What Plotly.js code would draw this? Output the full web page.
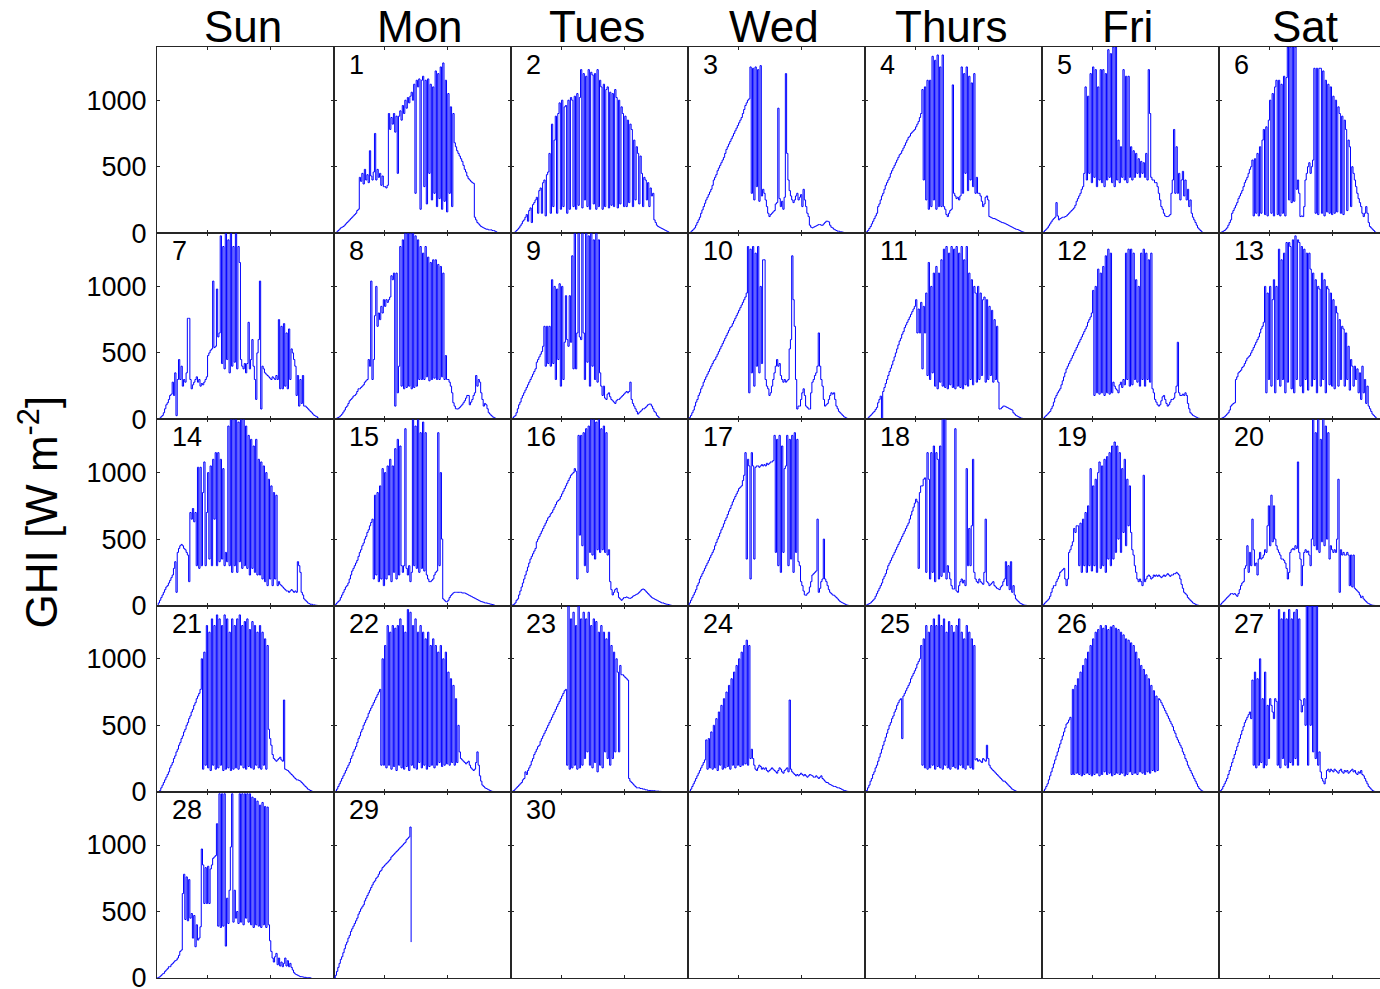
<!DOCTYPE html>
<html><head><meta charset="utf-8">
<script src="https://cdn.plot.ly/plotly-3.0.1.min.js"></script>
<style>html,body{margin:0;padding:0;overflow:hidden;background:#fff}</style>
</head><body><div id="chart" style="width:1400px;height:989px"></div>
<script>
const weekdays = ['Sun','Mon','Tues','Wed','Thurs','Fri','Sat'];
const firstWeekday = 1;   // day 1 is a Monday
const daysInMonth = 30;
const t0 = 6, dt = 0.1;   // sample time (hours) of first value, step
const yTickVals = [0, 500, 1000];
const xTickVals = [10, 15];
const yLabel = 'GHI [W m<sup>-2</sup>]';

const d1 = [0,5,10,20,30,40,45,50,60,70,
80,90,100,110,120,130,140,150,170,180,
420,390,450,370,480,400,440,380,620,430,
400,460,750,400,480,420,450,360,430,350,
350,340,360,900,780,870,820,900,760,880,
450,880,920,850,960,900,1000,940,1020,980,
1030,1060,1000,1120,300,1150,1100,1160,180,1150,
1180,350,1150,220,1160,450,1120,250,1100,300,
1220,200,1200,260,1250,180,1280,240,1150,160,
1050,300,950,200,900,680,650,620,600,580,
560,540,510,480,460,430,410,400,390,380,
375,120,100,80,70,60,50,45,40,35,
30,30,25,25,25,20,20,15,10,5,0];
const d2 = [0,0,5,10,20,30,40,55,70,90,
100,120,140,90,170,190,80,215,230,250,
270,150,320,340,150,380,400,130,440,460,
600,150,820,200,700,880,150,900,980,180,
1000,200,950,960,150,1000,180,1020,1000,200,
1030,180,1050,210,1020,1230,190,1200,250,1180,
200,1230,180,1210,1190,220,1200,180,1230,200,
1150,1100,180,1120,200,1080,1100,190,1060,210,
1050,200,1080,1020,190,1000,220,950,900,200,
880,200,850,230,820,780,200,700,250,650,
600,220,580,450,200,420,400,250,380,200,
340,280,300,100,80,60,50,45,40,35,
30,25,20,15,10,5,2,0];
const d3 = [0,5,10,20,30,40,60,80,100,120,
150,175,200,225,250,270,290,310,330,360,
400,420,440,470,490,510,530,550,570,600,
630,650,670,690,710,730,750,770,790,810,
830,850,870,900,930,960,980,1000,1010,1250,
300,1240,250,1250,350,1230,240,1260,280,330,
300,250,200,150,125,140,150,160,170,220,
230,940,260,200,240,180,270,1200,600,400,
320,280,250,230,250,280,300,250,270,290,
200,330,250,200,150,125,60,45,40,45,
50,55,60,65,65,60,60,70,80,90,
90,85,60,45,40,30,25,20,15,15,
10,10,8,5,3,0];
const d4 = [0,10,20,35,50,70,90,110,130,150,
200,220,250,280,300,330,360,380,400,420,
450,470,490,510,530,550,570,590,600,620,
640,660,680,700,720,730,750,760,770,780,
800,820,840,870,900,1080,400,1100,250,1150,
180,1150,200,1330,250,1300,180,1340,200,1250,
200,1340,200,180,140,125,150,170,180,1115,
300,280,260,270,250,280,1250,300,1200,450,
1250,320,1180,400,1130,350,1200,300,420,300,
300,280,240,200,220,270,280,250,125,120,
115,110,110,105,100,95,90,85,80,78,
75,70,65,60,55,50,45,40,35,30,
28,25,20,15,10,8,5,3,0];
const d5 = [0,10,20,30,40,55,70,85,100,110,
120,230,130,100,110,115,120,120,125,130,
140,150,160,170,180,190,210,240,260,280,
300,330,350,450,1100,400,1030,450,1200,380,
1250,420,1230,350,1100,400,1230,380,1230,350,
1200,400,1380,420,1350,380,1400,350,1400,400,
700,380,650,420,1230,400,1180,380,1180,420,
650,400,620,420,600,450,560,420,540,450,
530,420,600,400,1230,900,420,400,400,380,
380,350,300,250,200,180,150,130,125,125,
130,140,300,400,780,300,650,300,450,250,
400,465,280,400,250,330,200,250,150,120,
100,80,60,40,30,20,10,5,3,0];
const d6 = [0,5,10,15,20,30,40,60,80,100,
150,170,190,210,230,260,280,300,320,350,
380,400,420,450,480,500,550,130,560,150,
600,130,650,150,700,780,140,800,130,850,
1000,150,1050,130,1100,1150,140,1150,130,1120,
150,1180,130,1170,1400,250,1400,230,1400,240,
1400,330,400,300,125,130,125,200,400,450,
500,530,450,500,550,1240,150,1240,140,1240,
1240,150,1220,130,1150,160,1120,150,1100,140,
1030,150,1000,160,950,900,150,880,140,850,
780,170,700,650,200,500,450,400,350,300,
260,230,200,150,125,150,200,150,80,50,
40,30,20,10,5,0];
const d7 = [0,5,10,20,30,50,80,110,125,150,
180,190,280,180,350,28,300,450,300,400,
250,300,280,350,760,760,300,230,260,280,
300,320,280,300,250,270,260,280,300,320,
480,500,520,530,1040,540,550,980,620,650,
1380,420,1300,380,1400,450,1350,350,1400,400,
1300,430,1400,380,1300,1180,450,400,380,420,
350,420,730,380,450,600,400,300,150,500,
600,1040,78,400,380,350,340,330,320,310,
300,320,310,300,330,300,750,230,700,230,
720,250,650,230,680,300,530,500,450,400,
180,330,100,300,120,330,100,100,90,80,
70,60,50,40,30,25,20,10,5,0];
const d8 = [0,5,10,15,20,30,40,55,70,90,
100,120,140,150,160,175,180,190,210,230,
230,240,250,260,280,290,300,450,400,1040,
300,450,780,1000,700,800,750,850,800,900,
850,900,880,900,920,1080,1050,1100,100,1100,
200,400,1300,250,1350,230,1400,240,1400,250,
1400,230,1400,240,1380,250,1350,300,1300,300,
1250,300,1300,320,1220,290,1180,300,1200,310,
1200,300,1165,300,1150,320,1100,300,480,300,
300,280,250,200,125,100,80,78,80,90,
100,110,125,140,160,180,180,110,130,150,
180,200,330,250,300,280,200,150,100,120,
110,80,50,40,30,20,15,10,5,0];
const d9 = [0,10,20,28,50,80,110,130,160,180,
200,220,240,260,280,300,320,340,360,380,
430,450,470,490,510,550,700,400,700,420,
700,400,1050,420,1000,300,980,450,1020,250,
1000,300,580,930,600,550,930,580,1230,380,
1400,380,650,1400,620,600,1400,650,300,1400,
430,1380,250,1400,400,1350,300,1400,280,1350,
350,250,180,250,160,150,190,200,170,150,
140,130,120,140,150,150,160,170,180,190,
200,210,200,210,280,150,120,100,80,60,
40,50,60,70,80,80,90,100,110,115,
115,100,80,60,50,30,20,10,5,0];
const d10 = [0,15,30,50,70,100,130,150,180,200,
230,250,280,300,320,340,360,380,400,420,
440,450,470,490,510,530,550,570,590,610,
630,650,670,690,700,720,740,760,780,800,
820,840,860,880,900,920,950,1300,200,1280,
350,1300,250,1250,400,1300,350,1000,420,1200,
1200,300,250,230,180,200,250,300,350,400,
450,400,420,330,300,280,300,280,290,300,
530,600,1230,900,700,300,78,100,100,150,
200,230,180,100,90,78,78,200,280,300,
330,350,400,650,400,300,250,150,100,110,
120,150,180,200,190,200,150,100,80,60,
50,40,30,20,15,10,5,3,0];
const d11 = [0,5,10,20,30,40,50,60,75,90,
125,150,175,0,210,240,270,300,330,360,
385,410,440,470,500,530,560,590,610,640,
660,690,710,730,750,770,790,810,830,850,
900,650,830,650,880,380,850,650,950,330,
1180,300,1000,350,1100,250,1150,230,1100,280,
1200,250,1280,240,1300,230,1250,260,1300,240,
1280,230,1300,250,1250,240,1300,230,1200,260,
1300,250,1100,300,1050,260,1000,950,280,1000,
300,950,330,900,920,280,900,300,850,330,
820,280,750,300,700,280,78,80,90,100,
100,95,90,85,80,75,70,50,40,30,
25,20,15,10,8,5,3,0];
const d12 = [0,10,20,30,40,50,60,80,100,130,
160,180,200,215,230,260,290,320,350,380,
400,420,440,460,480,500,520,540,560,580,
600,620,640,660,680,700,730,750,770,800,
970,180,1000,200,1130,190,1100,200,1150,180,
1230,200,1280,190,1250,200,280,250,230,220,
200,260,280,240,300,260,1250,300,1280,250,
1280,260,1250,300,1050,280,1000,250,1250,300,
1280,250,1250,300,1200,280,1250,230,200,150,
130,110,100,110,140,170,180,150,120,100,
110,130,150,150,160,200,250,580,200,180,
180,190,180,200,180,120,80,50,40,30,
25,20,15,10,8,5,3,2,0];
const d13 = [0,5,10,15,20,30,40,50,70,100,
110,120,125,300,320,350,360,370,390,400,
420,440,460,470,480,500,520,540,560,580,
600,620,650,680,700,730,1000,200,950,300,
1000,250,900,1050,200,1000,300,1280,250,1200,
300,1250,200,1330,280,1330,1300,230,1350,200,
1380,300,1350,1330,250,1300,200,1280,300,1250,
220,1250,1130,250,1100,300,1050,200,1000,980,
250,1100,300,1050,200,1000,980,260,950,250,
900,230,850,800,250,750,300,700,680,250,
650,300,550,220,450,400,250,400,300,380,
200,350,150,400,200,300,120,250,100,80,
60,40,30,20,10,5,3,0];
const d14 = [0,20,40,60,80,100,120,140,150,170,
190,210,230,280,330,100,400,430,450,460,
450,430,420,400,380,180,700,650,730,630,
700,300,1040,280,1040,300,850,1080,300,700,
1000,350,1050,300,1100,650,1150,300,1150,330,
1100,350,1030,300,400,330,1350,300,1400,250,
1400,300,1400,250,1380,330,1400,280,1400,300,
1350,280,1280,230,1250,280,1200,250,1250,230,
1100,230,1080,200,1050,180,1000,150,950,200,
900,150,850,200,830,150,180,160,150,140,
130,120,110,110,100,110,120,110,100,110,
100,330,300,250,100,80,50,40,30,20,
15,10,10,5,5,3,2,0];
const d15 = [0,10,20,30,40,60,80,100,120,140,
150,170,200,230,260,280,300,320,340,370,
400,420,450,470,500,520,550,570,600,625,
650,200,830,230,850,180,900,200,1030,150,
1000,200,1050,230,1100,180,1050,250,1180,200,
1250,230,1200,300,250,300,1330,280,230,300,
180,250,1400,300,1350,280,1400,250,1300,280,
1380,260,1300,230,200,180,180,190,200,230,
250,260,1300,300,1000,500,50,40,30,28,
40,60,75,85,95,100,100,100,100,100,
100,95,95,95,90,85,80,75,70,65,
60,55,50,45,40,35,30,28,25,20,
20,18,15,12,10,8,5,0];
const d16 = [0,5,10,20,40,50,80,110,140,170,
200,230,260,290,320,350,370,390,410,430,
480,500,520,540,560,580,600,620,640,660,
670,690,700,720,740,760,780,790,800,820,
840,860,880,900,920,940,960,980,990,1000,
1030,1010,200,1280,530,1280,450,1300,300,1330,
250,1350,400,1400,380,1400,350,1380,420,1400,
400,1330,420,1350,400,1300,380,420,180,120,
80,100,120,130,100,60,50,40,50,60,
60,65,60,55,55,60,70,75,80,85,
90,100,110,120,125,120,110,100,90,80,
70,60,55,50,45,40,35,30,25,20,
20,15,12,10,8,5,3,0];
const d17 = [0,20,40,60,80,100,120,150,170,200,
220,240,260,280,300,320,340,360,380,400,
420,450,475,500,520,545,570,590,615,640,
660,685,710,730,755,780,800,820,840,860,
880,890,900,940,980,1150,350,1100,1050,200,
1150,1050,350,1040,1050,1050,1040,1050,1060,1050,
1060,1050,1070,1060,1070,1080,1080,1090,1280,400,
1250,300,1280,250,1200,400,1030,1050,1280,300,
1250,350,1280,250,1300,400,1250,330,300,180,
150,110,80,78,90,100,140,180,230,240,
250,260,650,100,130,180,200,500,200,180,
150,120,100,90,80,78,70,60,50,40,
30,25,20,15,10,5,3,0];
const d18 = [0,5,10,15,20,30,40,50,70,90,
110,130,150,170,200,220,240,270,300,320,
340,360,380,400,420,440,460,480,500,520,
540,560,580,600,620,650,680,710,740,770,
800,780,280,850,900,900,950,960,250,1150,
950,200,1150,250,1200,180,1150,1100,200,1200,
220,1400,250,1400,200,300,250,200,150,125,
125,1330,110,100,150,180,200,170,190,150,
1030,300,580,300,600,1100,250,200,180,170,
200,180,170,160,250,650,180,170,150,160,
170,180,150,140,130,125,120,140,150,180,
200,330,150,300,120,330,100,150,80,50,
40,30,20,15,10,5,3,2,0];
const d19 = [0,10,20,30,40,50,70,100,130,150,
150,180,200,220,250,260,270,280,200,150,
200,400,420,450,480,580,550,600,600,300,
620,250,650,300,700,250,750,300,1030,260,
900,300,950,250,1000,1080,280,1050,300,1100,
250,1120,350,1150,300,1200,350,1230,400,1200,
500,1150,400,1030,550,1100,450,950,600,900,
550,420,380,300,250,200,180,200,180,150,
980,180,200,220,230,220,200,210,230,220,
230,220,230,220,210,220,230,220,230,240,
230,220,230,230,240,240,250,240,230,200,
160,130,100,90,80,60,50,40,30,20,
15,10,5,3,0];
const d20 = [0,10,20,30,40,50,60,70,80,90,
90,85,90,80,70,90,120,150,170,180,
280,300,450,250,400,300,650,420,300,320,
230,350,400,350,360,380,420,400,600,750,
450,830,480,750,500,450,420,400,380,350,
350,340,320,280,200,250,400,420,430,420,
450,430,1080,400,350,150,300,400,420,400,
410,380,300,500,1400,450,1300,420,1400,400,
1250,480,1400,450,1350,500,1300,350,450,420,
400,420,400,500,950,100,420,380,400,380,
380,400,380,150,380,140,380,130,120,110,
100,80,60,70,50,40,30,20,15,10,
5,3,2,1,0];
const d21 = [0,0,10,30,50,70,90,110,130,150,
180,200,220,250,270,300,320,350,370,400,
420,450,470,500,520,550,570,600,620,650,
670,700,720,740,770,1000,170,1050,200,1250,
180,1200,160,1300,200,1250,170,1330,180,1300,
200,1250,160,1330,170,1300,180,1200,160,1300,
170,1250,180,1300,170,1330,200,1250,180,1280,
170,1300,190,1220,180,1280,170,1250,200,1200,
180,1250,170,1200,200,1150,170,1100,470,400,
350,280,250,240,230,240,250,260,240,230,
690,170,165,160,150,140,130,120,110,100,
90,90,85,80,70,60,50,40,30,20,
15,10,5,0];
const d22 = [0,5,20,40,60,80,100,120,140,160,
180,200,220,250,270,300,320,340,370,400,
420,450,470,500,520,540,560,590,610,630,
650,670,690,710,730,750,770,200,1000,200,
1100,180,1250,200,1200,170,1250,190,1230,160,
1250,200,1300,180,1250,170,1200,190,1370,160,
1350,200,1250,180,1300,170,1200,220,1250,180,
1200,200,1150,170,1200,190,1100,200,1150,180,
1100,200,1050,220,1100,190,1000,200,1050,210,
900,200,850,220,800,200,700,220,500,300,
250,240,230,220,210,220,230,200,180,170,
160,170,220,300,200,120,80,50,40,30,
25,20,15,10,5,3,0];
const d23 = [0,5,10,20,30,40,50,60,70,90,
100,150,130,160,180,200,230,250,280,300,
320,340,350,380,400,420,440,460,480,500,
520,540,560,580,600,620,640,660,680,700,
720,740,760,770,200,1400,170,1300,180,1350,
200,1250,170,1400,180,1300,200,1350,250,1300,
300,1350,200,1250,180,1300,220,1280,150,1200,
200,1250,180,1200,300,1150,250,1200,200,1100,
250,1050,300,1000,900,300,950,880,880,870,
860,850,840,100,80,70,60,50,40,30,
30,30,25,25,20,20,15,15,10,10,
10,10,8,8,5,5,5,3,3,2,
2,1,0];
const d24 = [0,5,20,40,60,80,100,120,140,160,
180,200,220,240,390,170,400,180,450,170,
500,180,550,160,600,200,650,170,700,180,
750,190,800,170,850,200,900,180,950,200,
1000,190,1050,200,1100,210,1140,200,1100,250,
320,250,200,170,160,180,200,190,170,180,
170,180,160,150,160,170,180,170,160,150,
140,160,180,170,150,140,160,170,180,150,
690,170,150,140,130,120,130,120,130,140,
130,120,130,120,110,120,130,125,120,110,
110,120,110,100,110,120,100,90,80,70,
70,60,55,50,45,40,40,35,30,30,
25,20,15,10,8,5,3,0];
const d25 = [0,10,30,50,80,100,130,150,180,200,
230,260,290,320,350,380,410,440,470,500,
520,550,570,600,620,650,670,690,700,400,
720,740,760,780,800,820,850,870,890,910,
930,960,980,1000,1100,200,1150,180,1250,170,
1200,180,1250,200,1300,170,1250,190,1330,180,
1250,170,1300,200,1200,180,1280,170,1250,190,
1200,180,1250,170,1300,200,1200,180,1150,170,
1250,200,1200,180,1150,170,1100,240,250,230,
240,230,220,250,240,230,350,250,200,180,
170,160,150,140,130,120,110,100,90,80,
80,70,60,50,40,30,20,15,10,5,0];
const d26 = [0,5,20,40,60,90,120,150,180,210,
240,270,300,330,360,390,420,450,480,510,
520,540,560,130,770,130,800,140,850,130,
900,120,950,130,1000,140,1050,130,1100,120,
1150,130,1200,140,1220,120,1250,130,1230,150,
1250,130,1220,140,1240,120,1250,130,1230,140,
1220,130,1200,140,1180,120,1150,130,1140,150,
1120,130,1100,140,1050,130,1000,150,950,140,
920,130,880,150,850,140,800,160,760,150,
720,160,700,690,670,650,630,610,590,570,
550,530,510,490,460,440,410,390,370,350,
330,300,280,250,230,200,180,160,140,120,
100,80,60,40,25,15,8,3,0];
const d27 = [0,10,20,40,60,80,100,130,160,190,
220,250,280,310,340,370,400,430,460,490,
520,540,560,580,600,550,840,200,900,180,
850,200,1000,220,700,180,900,200,650,250,
700,650,600,550,700,680,200,1370,180,1300,
250,1350,200,1300,180,1370,220,1300,200,1350,
250,1370,200,1300,690,600,650,700,500,1400,
200,1400,500,1400,300,1400,250,1400,200,300,
150,100,80,60,100,160,170,150,170,160,
150,170,160,150,140,160,170,150,140,160,
150,160,140,150,160,170,150,160,140,130,
150,140,160,130,120,100,80,60,40,30,
20,10,5,0];
const d28 = [0,5,10,20,30,35,50,60,70,85,
85,100,110,120,130,135,150,170,200,210,
635,780,440,760,430,740,450,485,300,470,
235,400,285,300,385,970,850,560,830,560,
840,560,820,850,900,910,920,1160,390,1385,
380,1385,390,1385,240,600,410,660,985,1385,
420,660,450,500,410,1385,420,1385,400,1385,
450,1385,420,1385,400,1360,380,1350,400,1330,
390,1300,380,1320,400,1290,380,1285,400,280,
200,150,120,160,185,100,150,90,120,85,
110,150,90,130,85,110,80,60,40,30,
25,20,15,10,10,8,5,5,3,3,
2,1,0];
const d29 = [0,20,50,80,110,140,160,190,220,250,
270,300,320,350,370,390,410,430,450,480,
500,520,535,550,580,600,620,640,660,680,
700,720,730,750,760,780,800,810,830,840,
850,860,870,880,890,910,920,930,940,950,
960,970,980,990,1000,1010,1020,1040,1050,1060,
1135,270];
const ghiByDay = [d1,d2,d3,d4,d5,d6,d7,d8,d9,d10,d11,d12,d13,d14,d15,d16,d17,d18,d19,d20,d21,d22,d23,d24,d25,d26,d27,d28,d29];

// ---------- figure ----------
const NCOL = 7, NROW = 5;
const FIG_W = 1400, FIG_H = 989;
const M = {l:157, r:4, t:47, b:11};
const PW = FIG_W - M.l - M.r, PH = FIG_H - M.t - M.b;
const FONT = 'Liberation Sans, Arial, Helvetica, sans-serif';
const LINEC = '#262626';

const layout = {
  width: FIG_W, height: FIG_H, margin: M,
  paper_bgcolor: '#fff', plot_bgcolor: 'rgba(0,0,0,0)',
  showlegend: false, font: {family: FONT, color: '#000'},
  annotations: []
};
const sfx = k => (k === 0 ? '' : String(k + 1));
for (let k = 0; k < NCOL * NROW; k++) {
  const r = Math.floor(k / NCOL), c = k % NCOL;
  layout['xaxis' + sfx(k)] = {
    domain: [c / NCOL, (c + 1) / NCOL], range: [6, 20], anchor: 'y' + sfx(k),
    showgrid: false, zeroline: false, showline: true, linecolor: LINEC, linewidth: 1,
    mirror: 'ticks', ticks: 'inside', ticklen: 3, tickcolor: LINEC,
    tickvals: xTickVals, showticklabels: false, fixedrange: true
  };
  layout['yaxis' + sfx(k)] = {
    domain: [1 - (r + 1) / NROW, 1 - r / NROW], range: [0, 1400], anchor: 'x' + sfx(k),
    showgrid: false, zeroline: false, showline: true, linecolor: LINEC, linewidth: 1,
    mirror: 'ticks', ticks: 'inside', ticklen: 3, tickcolor: LINEC,
    tickvals: yTickVals, ticktext: yTickVals.map(String),
    showticklabels: c === 0, ticklabelstandoff: 4, ticklabeloverflow: 'allow',
    tickfont: {family: FONT, size: 27, color: '#000'}, fixedrange: true
  };
}

const traces = [];
// empty trace in every cell so that every box is drawn
for (let k = 0; k < NCOL * NROW; k++) {
  traces.push({type: 'scatter', mode: 'lines', x: [null], y: [null],
    xaxis: 'x' + sfx(k), yaxis: 'y' + sfx(k), hoverinfo: 'skip'});
}
ghiByDay.forEach((vals, n) => {
  const k = n + firstWeekday;
  traces.push({
    type: 'scatter', mode: 'lines',
    x: vals.map((_, i) => +(t0 + dt * i).toFixed(2)), y: vals,
    xaxis: 'x' + sfx(k), yaxis: 'y' + sfx(k),
    line: {color: '#0000ff', width: 1, shape: 'hv'}, hoverinfo: 'skip'
  });
});

// day numbers
for (let day = 1; day <= daysInMonth; day++) {
  const k = day - 1 + firstWeekday;
  const r = Math.floor(k / NCOL), c = k % NCOL;
  layout.annotations.push({
    text: String(day), xref: 'paper', yref: 'paper', showarrow: false,
    x: (c * PW / NCOL + 13) / PW, y: 1 - (r * PH / NROW + 18) / PH,
    xanchor: 'left', yanchor: 'middle',
    font: {family: FONT, size: 27, color: '#000'}
  });
}
// weekday headers
weekdays.forEach((w, c) => {
  layout.annotations.push({
    text: w, xref: 'paper', yref: 'paper', showarrow: false,
    x: ((c + 0.5) * PW / NCOL - 3) / PW, y: 1 + 21 / PH, xanchor: 'center', yanchor: 'middle',
    font: {family: FONT, size: 44, color: '#000'}
  });
});
// y label
layout.annotations.push({
  text: yLabel, xref: 'paper', yref: 'paper', showarrow: false,
  x: (38 - M.l) / PW, y: 0.5, xanchor: 'center', yanchor: 'middle', textangle: -90,
  font: {family: FONT, size: 44, color: '#000'}
});

Plotly.newPlot('chart', traces, layout, {displayModeBar: false, staticPlot: true});
</script></body></html>
